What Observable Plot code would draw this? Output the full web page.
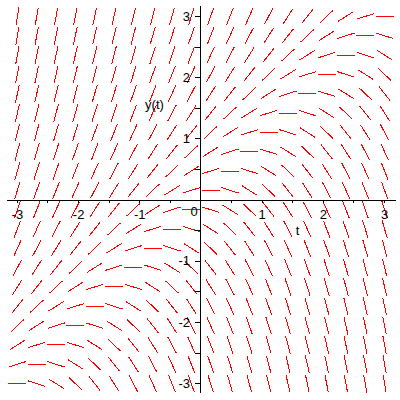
<!DOCTYPE html>
<html>
<head>
<meta charset="utf-8">
<script src="https://cdn.jsdelivr.net/npm/d3@7"></script>
<script src="https://cdn.jsdelivr.net/npm/@observablehq/plot@0.6"></script>
<style>
  html, body { margin: 0; padding: 0; background: #fff; }
</style>
</head>
<body>
<div id="chart"></div>
<script>
// Direction field of dy/dt = y - t on a 20 x 20 grid (Maple dfieldplot style)
const tGrid = [-3, -2.684, -2.368, -2.053, -1.737, -1.421, -1.105, -0.789, -0.474, -0.158,
               0.158, 0.474, 0.789, 1.105, 1.421, 1.737, 2.053, 2.368, 2.684, 3];
const yGrid = [-3, -2.684, -2.368, -2.053, -1.737, -1.421, -1.105, -0.789, -0.474, -0.158,
               0.158, 0.474, 0.789, 1.105, 1.421, 1.737, 2.053, 2.368, 2.684, 3];
const slope = (t, y) => y - t;   // the differential equation y'(t) = y(t) - t

const majorTicks = [-3, -2, -1, 1, 2, 3];
const minorTicks = [-3, -2.5, -2, -1.5, -1, -0.5, 0.5, 1, 1.5, 2, 2.5, 3];
const xLabel = "t";
const yLabel = "y(t)";

const unitPx = 61.2;
const halfLen = 9 / unitPx; // half segment length in data units

const field = [];
for (const t of tGrid) {
  for (const y of yGrid) {
    const m = slope(t, y);
    const d = halfLen / Math.sqrt(1 + m * m);
    field.push({t1: t - d, y1: y - m * d, t2: t + d, y2: y + m * d});
  }
}

const font = "'Liberation Sans', Arial, Helvetica, sans-serif";
const tickLen = 3 / unitPx;
const yTickLen = 5 / unitPx;

const chart = Plot.plot({
  width: 400,
  height: 400,
  margin: 0,
  x: {domain: [-3.276, 3.260], range: [0, 400], axis: null},
  y: {domain: [-3.276, 3.260], range: [400, 0], axis: null},
  style: {fontFamily: font, fontSize: "13px", background: "#fff"},
  marks: [
    Plot.link(field, {x1: "t1", y1: "y1", x2: "t2", y2: "y2", stroke: "#ff0000", strokeWidth: 1, shapeRendering: "crispEdges"}),
    // axes through the origin
    Plot.ruleY([0], {x1: -3.16, x2: 3.19, stroke: "#000", strokeWidth: 1, shapeRendering: "crispEdges"}),
    Plot.ruleX([0], {y1: -3.16, y2: 3.16, stroke: "#000", strokeWidth: 1, shapeRendering: "crispEdges"}),
    // tick marks
    Plot.ruleX(minorTicks, {y1: 0, y2: -tickLen, stroke: "#000", strokeWidth: 1, shapeRendering: "crispEdges"}),
    Plot.ruleY(minorTicks, {x1: 0, x2: -yTickLen, stroke: "#000", strokeWidth: 1, shapeRendering: "crispEdges"}),
    // tick labels
    Plot.text(majorTicks, {x: d => d, y: 0, text: d => String(d), dy: 15, fill: "#000", fontSize: 13, textAnchor: "middle"}),
    Plot.text(majorTicks, {x: 0, y: d => d, text: d => String(d), dx: -11, fill: "#000", fontSize: 13, textAnchor: "end"}),
    Plot.text([0], {x: 0, y: 0, text: d => String(d), dx: -7, dy: 12, fill: "#000", fontSize: 13, textAnchor: "middle"}),
    // axis labels
    Plot.text([xLabel], {x: 1.58, y: -0.5, text: d => d, fill: "#000", fontSize: 13, textAnchor: "middle"}),
    Plot.text([yLabel], {x: -0.76, y: 1.56, text: d => d, fill: "#000", fontSize: 13, textAnchor: "middle"})
  ]
});
document.getElementById("chart").appendChild(chart);
</script>
</body>
</html>
